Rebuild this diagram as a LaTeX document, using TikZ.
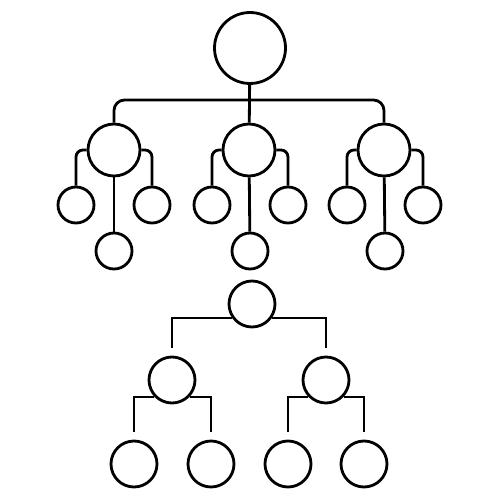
\documentclass[tikz,border=0pt]{standalone}
\usepackage{tikz}
\usetikzlibrary{positioning,calc}

\begin{document}
\begin{tikzpicture}[x=0.02cm,y=-0.02cm,line width=1.6pt,
    root node/.style={circle,draw,inner sep=0pt,minimum size=1.42cm},
    mid node/.style={circle,draw,inner sep=0pt,minimum size=1.04cm},
    leaf node/.style={circle,draw,inner sep=0pt,minimum size=0.72cm},
    tree node/.style={circle,draw,inner sep=0pt,minimum size=0.92cm}]

    \useasboundingbox (0,0) rectangle (500,500);

    % upper chart
    \node[root node] (root) at (250,48) {};
    \coordinate (bar) at (250,100);

    \node[mid node] (a) at (114,150) {};
    \node[mid node] (b) at (249,150) {};
    \node[mid node] (c) at (384,150) {};

    \node[leaf node] (a1) at (76,205) {};
    \node[leaf node] (a2) at (114,251) {};
    \node[leaf node] (a3) at (152,205) {};
    \node[leaf node] (b1) at (212,205) {};
    \node[leaf node] (b2) at (250,251) {};
    \node[leaf node] (b3) at (288,205) {};
    \node[leaf node] (c1) at (347,205) {};
    \node[leaf node] (c2) at (385,251) {};
    \node[leaf node] (c3) at (423,205) {};

    \draw (root) -- (b);
    \draw[rounded corners=6pt] (a.north) |- (bar) -| (c.north);

    \foreach \p in {a,b,c} {
      \draw[rounded corners=4pt] (\p.west) -| (\p1.north);
      \draw[rounded corners=4pt] (\p.east) -| (\p3.north);
      \draw (\p) -- (\p2);
    }

    % lower chart
    \node[tree node] (d) at (252,304) {};
    \node[tree node] (e) at (172,380) {};
    \node[tree node] (f) at (326,380) {};
    \node[tree node] (g) at (134,464) {};
    \node[tree node] (h) at (211,464) {};
    \node[tree node] (i) at (288,464) {};
    \node[tree node] (j) at (364,464) {};

    \begin{scope}[shorten >=1.6mm]
      \draw (d.215) -| (e.north);
      \draw (d.325) -| (f.north);
      \draw (e.224) -| (g.north);
      \draw (e.316) -| (h.north);
      \draw (f.224) -| (i.north);
      \draw (f.316) -| (j.north);
    \end{scope}
  \end{tikzpicture}
\end{document}
